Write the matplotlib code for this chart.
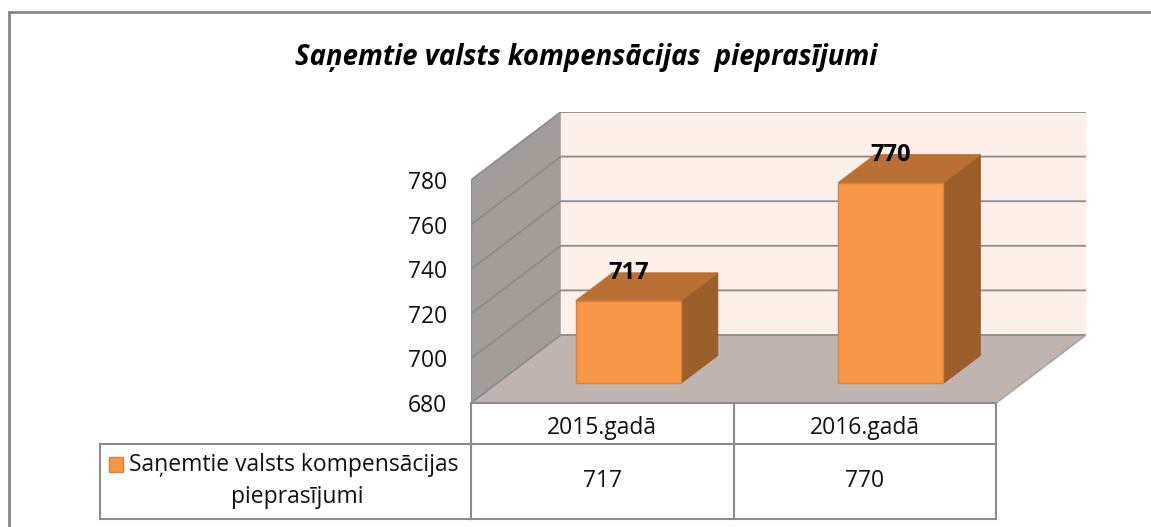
import matplotlib
matplotlib.use("Agg")
import matplotlib.pyplot as plt
from matplotlib.patches import Polygon, Rectangle
from matplotlib.lines import Line2D
from matplotlib.transforms import blended_transform_factory

plt.rcParams['font.family'] = ['Open Sans', 'DejaVu Sans']

# data
title = "Saņemtie valsts kompensācijas  pieprasījumi"
categories = ["2015.gadā", "2016.gadā"]
values = [717, 770]
series_name = "Saņemtie valsts kompensācijas\npieprasījumi"
y_ticks = [680, 700, 720, 740, 760, 780]

# colours
bar_front = "#F79646"
bar_top = "#BA7033"
bar_side = "#9C5E2A"
bar_edge = "#D9833C"
wall_back = "#FDEFE9"
wall_side = "#A39D99"
floor_col = "#BFB4B0"
grid_col = "#8C8C8C"
line_col = "#8C8C8C"
text_col = "#111111"

W, H = 1151, 527
fig = plt.figure(figsize=(W / 100, H / 100), dpi=100)

# oblique depth offset in data units
DX = 0.342
DY = 30.5
ymin, ymax = y_ticks[0], y_ticks[-1]
n = len(categories)

ax = fig.add_axes([471 / W, (H - 403) / H, 615 / W, 291 / H])
ax.set_xlim(0, n + DX)
ax.set_ylim(ymin, ymax + DY)
for s in ax.spines.values():
    s.set_visible(False)
ax.set_xticks([])
ax.set_yticks(y_ticks)
ax.tick_params(axis='y', length=0, pad=17, labelsize=16.5, labelcolor=text_col)
ax.patch.set_visible(False)

# walls and floor
ax.add_patch(Rectangle((DX, ymin + DY), n, ymax - ymin, fc=wall_back, ec='none', zorder=1))
ax.add_patch(Polygon([(0, ymin), (0, ymax), (DX, ymax + DY), (DX, ymin + DY)],
                     fc=wall_side, ec='none', zorder=1))
ax.add_patch(Polygon([(0, ymin), (n, ymin), (n + DX, ymin + DY), (DX, ymin + DY)],
                     fc=floor_col, ec='none', zorder=1))
for v in y_ticks:
    ax.plot([0, DX, n + DX], [v, v + DY, v + DY], color=grid_col, lw=1.3, zorder=2)
ax.plot([0, 0], [ymin, ymax], color=grid_col, lw=1.5, zorder=2)
ax.plot([n, n + DX], [ymin, ymin + DY], color="#A6A6A6", lw=1.2, zorder=2)
ax.plot([0, n], [ymin, ymin], color=line_col, lw=1.5, zorder=2, clip_on=False)

# bars
bw = 0.40
d0, d1 = 0.29, 0.70
for i, v in enumerate(values):
    c = i + 0.5
    xl = c - bw / 2 + d0 * DX
    xr = c + bw / 2 + d0 * DX
    y0 = ymin + d0 * DY
    y1 = v + d0 * DY
    ox = (d1 - d0) * DX
    oy = (d1 - d0) * DY
    ax.add_patch(Polygon([(xr, y0), (xr + ox, y0 + oy), (xr + ox, y1 + oy), (xr, y1)],
                         fc=bar_side, ec=bar_side, lw=0.8, zorder=3))
    ax.add_patch(Polygon([(xl, y1), (xr, y1), (xr + ox, y1 + oy), (xl + ox, y1 + oy)],
                         fc=bar_top, ec=bar_top, lw=0.8, zorder=3))
    ax.add_patch(Rectangle((xl, y0), xr - xl, y1 - y0, fc=bar_front, ec=bar_edge,
                           lw=1.0, zorder=4))
    ax.text(c + d0 * DX, v + d1 * DY, str(v), ha='center', va='center',
            fontsize=17, fontweight='bold', color='black', zorder=5)

# data table below the plot
tr = blended_transform_factory(ax.transData, fig.transFigure)
def fy(py):
    return (H - py) / H

r0, r1, r2 = 403, 444, 519
for k in range(n + 1):
    fig.add_artist(Line2D([k, k], [fy(r0), fy(r2)], transform=tr, color=line_col, lw=1.5))
fig.add_artist(Line2D([100 / W, 471 / W], [fy(r1), fy(r1)], transform=fig.transFigure,
                      color=line_col, lw=1.5))
fig.add_artist(Line2D([100 / W, 471 / W], [fy(r2), fy(r2)], transform=fig.transFigure,
                      color=line_col, lw=1.5))
fig.add_artist(Line2D([100 / W, 100 / W], [fy(r1), fy(r2)], transform=fig.transFigure,
                      color=line_col, lw=1.5))
fig.add_artist(Line2D([0, n], [fy(r1), fy(r1)], transform=tr, color=line_col, lw=1.5))
fig.add_artist(Line2D([0, n], [fy(r2), fy(r2)], transform=tr, color=line_col, lw=1.5))

for i, (cat, v) in enumerate(zip(categories, values)):
    fig.text(i + 0.5, fy(428), cat, transform=tr, ha='center', va='center',
             fontsize=16.5, color=text_col)
    fig.text(i + 0.5, fy(481), str(v), transform=tr, ha='center', va='center',
             fontsize=16.5, color=text_col)

fig.add_artist(Rectangle((109 / W, fy(472)), 14 / W, 15 / H, transform=fig.transFigure,
                         fc=bar_front, ec=bar_edge, lw=1.0))
line1, line2 = series_name.split("\n")
fig.text(129 / W, fy(465), line1, ha='left', va='center', fontsize=16.5, color=text_col)
fig.text(297 / W, fy(497), line2, ha='center', va='center', fontsize=16.5, color=text_col)

# title
fig.text(586 / W, fy(57), title, ha='center', va='center', fontsize=19.8,
         fontweight='bold', fontstyle='italic', color='black')

# outer chart border (runs off the right and bottom edges)
fig.add_artist(Rectangle((9 / W, -0.1), 1.2, fy(12) + 0.1, transform=fig.transFigure,
                         fc='none', ec='#878787', lw=2))

fig.savefig("out.png", dpi=100)
